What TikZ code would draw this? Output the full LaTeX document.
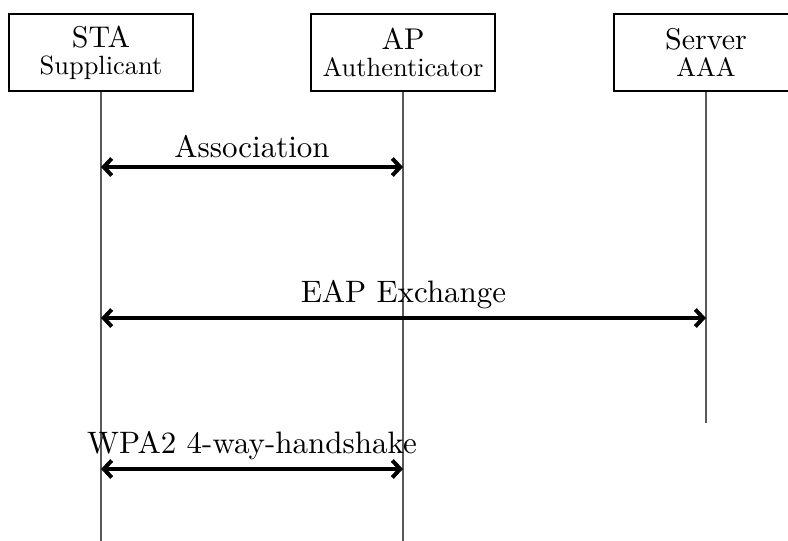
\documentclass[tikz,border=0pt]{standalone}
\usepackage{amssymb,amsmath}
\usepackage{fontspec}
\setmainfont{lmroman10-regular.otf}
\usepackage{tikz}
\usetikzlibrary{%
  arrows.meta,%
  calc%
}
\tikzset{>={Straight Barb[length=4pt,width=8.5pt]},%
  party/.style={draw,line width=1pt,minimum width=92pt,minimum height=38.5pt,
    align=center,inner sep=0pt,font=\fontsize{15}{16}\selectfont},
  lifeline/.style={draw=black!65,line width=0.6pt},
  msg/.style={<->,line width=2pt},
  msglabel/.style={midway,above,font=\fontsize{15.5}{18}\selectfont}}

\begin{document}
\begin{tikzpicture}[x=0.5pt,y=-0.5pt]
      \useasboundingbox (0,0) rectangle (788,541);
      \node[party] (sta) at (101,52.5) {STA\\[-2.5pt]{\fontsize{13.2}{14}\selectfont Supplicant}};
      \node[party] (ap) at (403,52.5) {AP\\[-2.5pt]{\fontsize{13.2}{14}\selectfont Authenticator}};
      \node[party] (srv) at (706,52.5) {Server\\[-2.5pt]{\fontsize{13.2}{14}\selectfont AAA}};
      % lifelines
      \coordinate (staend) at (101,541);
      \coordinate (apend) at (403,541);
      \coordinate (srvend) at (706,423);
      \draw[lifeline] (sta.south) -- (staend);
      \draw[lifeline] (ap.south) -- (apend);
      \draw[lifeline] (srv.south) -- (srvend);
      % messages
      \coordinate (sta1) at (sta |- 0,167);
      \coordinate (ap1) at (ap |- 0,167);
      \draw[msg] (sta1) -- (ap1) node[msglabel] {Association};
      \coordinate (sta2) at (sta |- 0,318);
      \coordinate (srv2) at (srv |- 0,318);
      \draw[msg] (sta2) -- (srv2) node[msglabel] {EAP Exchange};
      \coordinate (sta3) at (sta |- 0,469);
      \coordinate (ap3) at (ap |- 0,469);
      \draw[msg] (sta3) -- (ap3) node[msglabel] {WPA2 4-way-handshake};
    \end{tikzpicture}
\end{document}
